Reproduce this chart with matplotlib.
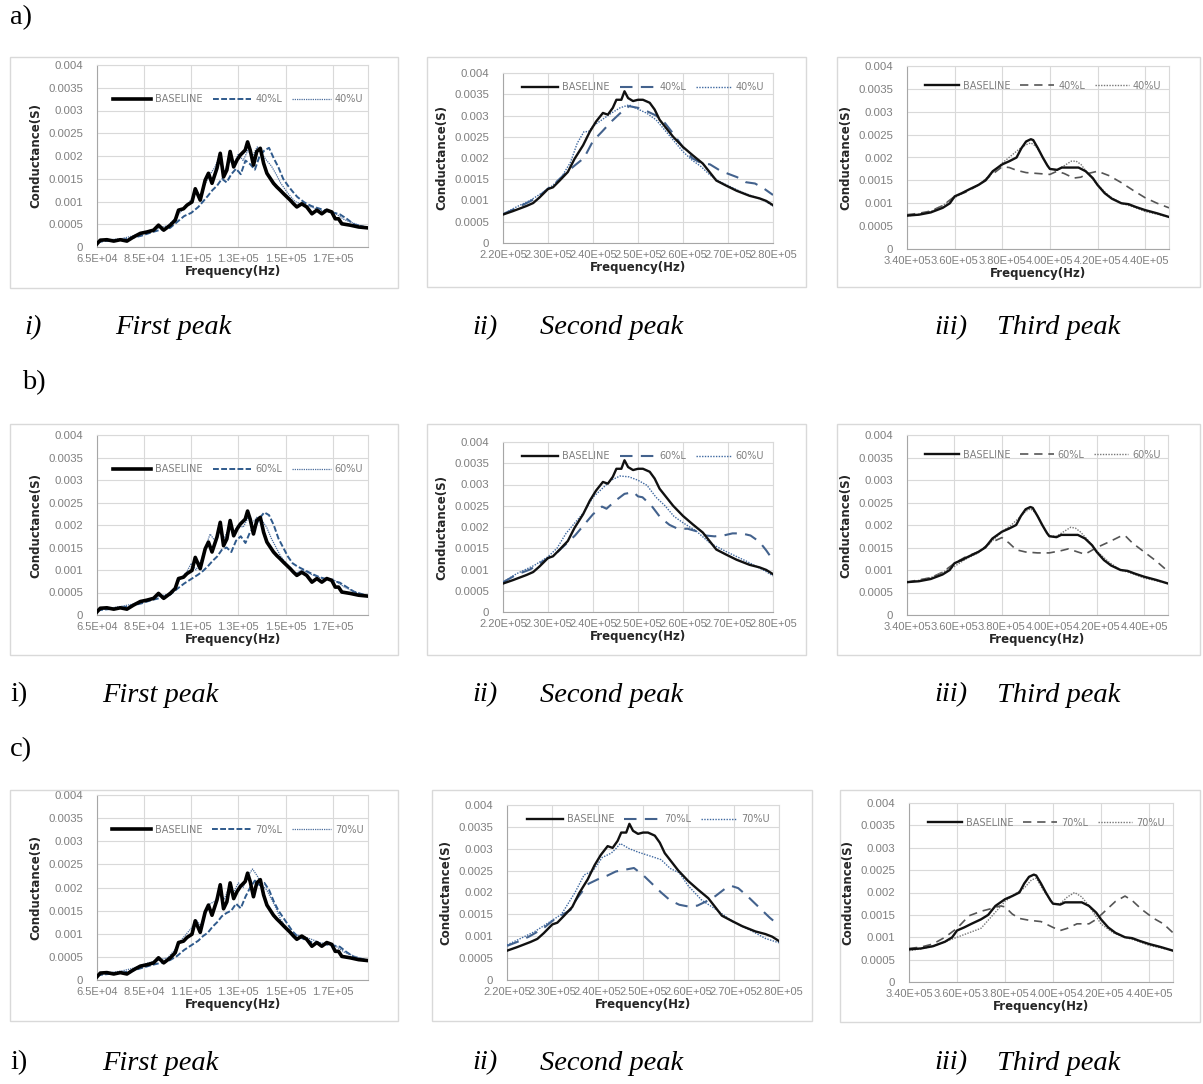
import numpy as np
import matplotlib.pyplot as plt
from matplotlib.patches import Rectangle

W, H = 1203, 1084

# ---------------- Datos de conductancia (S) vs frecuencia (kHz) ----------------
# Primer pico
f1_base = [65.0, 66.4, 69.2, 72.1, 74.9, 77.7, 80.5, 83.4, 86.2, 89.0, 91.1, 93.3, 96.1, 98.2, 99.6,
           101.7, 103.2, 105.3, 106.7, 108.8, 110.9, 112.3, 113.8, 115.9, 117.3, 118.7, 120.1, 121.5,
           123.0, 124.4, 125.8, 127.9, 128.9, 130.0, 131.4, 132.8, 134.3, 135.7, 137.1, 138.5, 139.9,
           141.3, 142.7, 144.2, 145.6, 147.0, 148.4, 149.8, 151.9, 154.0, 156.2, 158.3, 160.4, 162.5,
           164.6, 166.1, 167.5, 168.9, 172.4, 176.0, 179.9]
g1_base = [0.00007, 0.00015, 0.00016, 0.00013, 0.00016, 0.00013, 0.00022, 0.00030, 0.00033, 0.00037,
           0.00048, 0.00037, 0.00048, 0.00059, 0.00081, 0.00084, 0.00092, 0.00099, 0.00128, 0.00103,
           0.00147, 0.00162, 0.00140, 0.00173, 0.00206, 0.00154, 0.00169, 0.00210, 0.00176, 0.00191,
           0.00202, 0.00213, 0.00231, 0.00213, 0.00180, 0.00210, 0.00217, 0.00184, 0.00162, 0.00151,
           0.00140, 0.00132, 0.00125, 0.00117, 0.00110, 0.00103, 0.00095, 0.00088, 0.00095, 0.00088,
           0.00073, 0.00081, 0.00073, 0.00081, 0.00077, 0.00062, 0.00062, 0.00051, 0.00048, 0.00044,
           0.00042]

f1_L = [65, 68, 72, 76, 80, 84, 88, 92, 96, 99, 102, 105, 108, 110, 112, 114, 116, 118, 120, 122,
        124, 126, 128, 130, 132, 134, 136, 138, 140, 142, 144, 146, 148, 150, 153, 156, 159, 162,
        165, 168, 171, 174, 177, 180]
g1_40L = [0.00010, 0.00013, 0.00014, 0.00016, 0.00020, 0.00025, 0.00032, 0.00038, 0.00042, 0.00055,
          0.00068, 0.00075, 0.00088, 0.00100, 0.00112, 0.00125, 0.00135, 0.00150, 0.00142, 0.00160,
          0.00172, 0.00160, 0.00190, 0.00182, 0.00170, 0.00200, 0.00212, 0.00218, 0.00195, 0.00175,
          0.00150, 0.00135, 0.00122, 0.00110, 0.00098, 0.00090, 0.00085, 0.00080, 0.00076, 0.00072,
          0.00062, 0.00050, 0.00046, 0.00042]
g1_60L = [0.00010, 0.00012, 0.00014, 0.00017, 0.00021, 0.00026, 0.00033, 0.00038, 0.00045, 0.00058,
          0.00070, 0.00080, 0.00090, 0.00098, 0.00108, 0.00120, 0.00130, 0.00145, 0.00150, 0.00140,
          0.00165, 0.00175, 0.00160, 0.00185, 0.00195, 0.00215, 0.00228, 0.00222, 0.00200, 0.00170,
          0.00150, 0.00130, 0.00115, 0.00108, 0.00100, 0.00092, 0.00085, 0.00080, 0.00076, 0.00072,
          0.00062, 0.00052, 0.00047, 0.00042]
g1_70L = [0.00010, 0.00012, 0.00014, 0.00016, 0.00020, 0.00026, 0.00032, 0.00037, 0.00043, 0.00052,
          0.00065, 0.00075, 0.00085, 0.00095, 0.00102, 0.00115, 0.00125, 0.00138, 0.00145, 0.00150,
          0.00165, 0.00155, 0.00180, 0.00200, 0.00215, 0.00205, 0.00210, 0.00195, 0.00170, 0.00150,
          0.00135, 0.00120, 0.00105, 0.00095, 0.00088, 0.00082, 0.00080, 0.00077, 0.00075, 0.00072,
          0.00060, 0.00050, 0.00046, 0.00042]

f1_U = [65, 70, 75, 80, 85, 90, 95, 98, 101, 103, 105, 107, 109, 111, 113, 115, 117, 119, 121, 123,
        125, 127, 129, 131, 133, 135, 137, 139, 141, 143, 146, 149, 152, 156, 160, 165, 170, 175, 180]
g1_40U = [0.00010, 0.00016, 0.00018, 0.00024, 0.00033, 0.00040, 0.00047, 0.00062, 0.00080, 0.00090,
          0.00105, 0.00125, 0.00110, 0.00140, 0.00160, 0.00175, 0.00200, 0.00165, 0.00190, 0.00180,
          0.00205, 0.00190, 0.00212, 0.00200, 0.00220, 0.00205, 0.00190, 0.00178, 0.00160, 0.00140,
          0.00118, 0.00100, 0.00094, 0.00088, 0.00080, 0.00078, 0.00060, 0.00050, 0.00042]
g1_60U = [0.00010, 0.00015, 0.00019, 0.00024, 0.00032, 0.00040, 0.00046, 0.00060, 0.00085, 0.00095,
          0.00115, 0.00100, 0.00120, 0.00150, 0.00180, 0.00165, 0.00185, 0.00170, 0.00195, 0.00185,
          0.00200, 0.00195, 0.00215, 0.00205, 0.00218, 0.00210, 0.00195, 0.00170, 0.00150, 0.00130,
          0.00110, 0.00092, 0.00100, 0.00090, 0.00082, 0.00080, 0.00062, 0.00050, 0.00042]
g1_70U = [0.00010, 0.00016, 0.00019, 0.00025, 0.00034, 0.00042, 0.00048, 0.00065, 0.00088, 0.00100,
          0.00112, 0.00130, 0.00118, 0.00145, 0.00165, 0.00170, 0.00190, 0.00175, 0.00200, 0.00190,
          0.00210, 0.00200, 0.00225, 0.00240, 0.00225, 0.00205, 0.00195, 0.00175, 0.00155, 0.00130,
          0.00110, 0.00098, 0.00095, 0.00088, 0.00080, 0.00078, 0.00060, 0.00050, 0.00042]

# Segundo pico
f2_base = [220.0, 222.2, 225.2, 226.7, 228.1, 230.0, 231.1, 232.6, 234.4, 235.9, 237.8, 239.3, 240.7,
           242.2, 243.3, 244.4, 245.2, 246.3, 247.0, 247.8, 248.9, 250.0, 251.1, 252.6, 253.7, 254.8,
           256.3, 257.8, 260.0, 262.2, 264.4, 265.9, 267.4, 269.6, 271.9, 274.8, 277.0, 278.5, 280.0]
g2_base = [0.00067, 0.00075, 0.00087, 0.00094, 0.00107, 0.00127, 0.00131, 0.00147, 0.00167, 0.00198,
           0.00230, 0.00262, 0.00286, 0.00306, 0.00302, 0.00318, 0.00337, 0.00337, 0.00357, 0.00341,
           0.00334, 0.00337, 0.00337, 0.00330, 0.00314, 0.00290, 0.00270, 0.00250, 0.00226, 0.00206,
           0.00187, 0.00167, 0.00147, 0.00135, 0.00123, 0.00111, 0.00105, 0.00099, 0.00089]

f2_40L = [220, 223, 226, 228, 230, 232, 234, 236, 238, 240, 242, 244, 246, 248, 250, 252, 254, 256,
          258, 260, 262, 264, 266, 268, 270, 272, 274, 276, 278, 280]
g2_40L = [0.00068, 0.00082, 0.00098, 0.00110, 0.00128, 0.00145, 0.00165, 0.00183, 0.00200, 0.00240,
          0.00262, 0.00285, 0.00305, 0.00322, 0.00318, 0.00310, 0.00300, 0.00282, 0.00255, 0.00225,
          0.00200, 0.00188, 0.00185, 0.00172, 0.00163, 0.00155, 0.00143, 0.00140, 0.00128, 0.00113]
f2_40U = [220, 223, 226, 229, 231, 233, 235, 236.5, 238, 239, 240, 242, 244, 246, 248, 250, 252, 254,
          256, 258, 260, 262, 264, 266, 268, 270, 273, 276, 278, 280]
g2_40U = [0.00068, 0.00085, 0.00100, 0.00120, 0.00135, 0.00155, 0.00190, 0.00235, 0.00262, 0.00262,
          0.00275, 0.00290, 0.00305, 0.00318, 0.00325, 0.00315, 0.00305, 0.00290, 0.00265, 0.00240,
          0.00215, 0.00195, 0.00180, 0.00160, 0.00145, 0.00135, 0.00120, 0.00108, 0.00100, 0.00087]
f2_60L = [220, 223, 226, 229, 232, 234, 236, 238, 240, 242, 243, 245, 247, 249, 250, 251, 253, 255,
          257, 259, 261, 263, 265, 267, 269, 271, 273, 275, 277, 278.5, 280]
g2_60L = [0.00070, 0.00088, 0.00100, 0.00120, 0.00140, 0.00160, 0.00180, 0.00205, 0.00230, 0.00248,
          0.00243, 0.00262, 0.00278, 0.00282, 0.00272, 0.00270, 0.00250, 0.00222, 0.00205, 0.00195,
          0.00196, 0.00190, 0.00180, 0.00178, 0.00180, 0.00185, 0.00185, 0.00180, 0.00165, 0.00145,
          0.00122]
f2_60U = [220, 223, 227, 230, 232, 234, 236, 238, 240, 242, 244, 246, 248, 250, 252, 254, 256, 258,
          260, 263, 266, 270, 274, 278, 280]
g2_60U = [0.00070, 0.00090, 0.00110, 0.00130, 0.00150, 0.00185, 0.00210, 0.00235, 0.00270, 0.00290,
          0.00310, 0.00320, 0.00318, 0.00310, 0.00298, 0.00270, 0.00250, 0.00225, 0.00210, 0.00190,
          0.00162, 0.00140, 0.00120, 0.00098, 0.00085]
f2_70L = [220, 223, 225, 228, 230, 232, 234, 235, 237, 238, 240, 242, 244, 246, 248, 250, 252, 254,
          256, 258, 260, 262, 264, 266, 268, 269.5, 271, 273, 276, 278, 280]
g2_70L = [0.00078, 0.00090, 0.00100, 0.00118, 0.00135, 0.00148, 0.00160, 0.00180, 0.00208, 0.00220,
          0.00230, 0.00238, 0.00248, 0.00252, 0.00256, 0.00240, 0.00220, 0.00200, 0.00182, 0.00172,
          0.00168, 0.00170, 0.00180, 0.00192, 0.00208, 0.00215, 0.00210, 0.00192, 0.00162, 0.00142,
          0.00125]
f2_70U = [220, 223, 226, 229, 232, 235, 237, 239, 241, 243, 244, 245, 247, 249, 252, 254, 256, 258,
          260, 263, 266, 270, 274, 277, 280]
g2_70U = [0.00080, 0.00095, 0.00110, 0.00130, 0.00150, 0.00200, 0.00240, 0.00250, 0.00280, 0.00290,
          0.00300, 0.00312, 0.00300, 0.00292, 0.00282, 0.00275, 0.00255, 0.00245, 0.00215, 0.00182,
          0.00162, 0.00132, 0.00112, 0.00095, 0.00085]

# Tercer pico
f3_base = [340, 345, 350, 355, 358, 360, 363, 366, 370, 373, 376, 380, 383, 386, 388, 390, 392, 393,
           395, 397, 399, 400, 403, 405, 408, 412, 415, 418, 420, 423, 426, 430, 433, 436, 440, 445, 450]
g3_base = [0.00073, 0.00075, 0.00080, 0.00090, 0.00100, 0.00115, 0.00122, 0.00130, 0.00140, 0.00150,
           0.00170, 0.00185, 0.00192, 0.00200, 0.00220, 0.00235, 0.00240, 0.00238, 0.00220, 0.00200,
           0.00182, 0.00175, 0.00173, 0.00178, 0.00178, 0.00178, 0.00170, 0.00155, 0.00140, 0.00122,
           0.00110, 0.00100, 0.00098, 0.00092, 0.00085, 0.00078, 0.00070]

f3_40L = [340, 345, 350, 355, 360, 365, 370, 375, 380, 383, 386, 390, 395, 400, 403, 406, 410, 413,
          416, 420, 425, 430, 435, 440, 445, 450]
g3_40L = [0.00075, 0.00078, 0.00083, 0.00095, 0.00115, 0.00125, 0.00140, 0.00160, 0.00180, 0.00178,
          0.00172, 0.00167, 0.00165, 0.00163, 0.00170, 0.00165, 0.00155, 0.00157, 0.00165, 0.00170,
          0.00160, 0.00145, 0.00128, 0.00112, 0.00100, 0.00090]
f3_U = [340, 345, 350, 355, 360, 365, 370, 375, 380, 384, 387, 390, 392, 394, 396, 398, 400, 403,
        406, 409, 411, 413, 416, 420, 425, 430, 435, 440, 445, 450]
g3_40U = [0.00072, 0.00076, 0.00082, 0.00095, 0.00112, 0.00128, 0.00140, 0.00162, 0.00188, 0.00205,
          0.00218, 0.00228, 0.00232, 0.00225, 0.00210, 0.00190, 0.00175, 0.00172, 0.00182, 0.00192,
          0.00192, 0.00185, 0.00165, 0.00140, 0.00115, 0.00100, 0.00092, 0.00082, 0.00076, 0.00070]
f3_60L = [340, 345, 350, 355, 360, 365, 370, 375, 380, 383, 386, 390, 395, 400, 405, 408, 412, 415,
          420, 425, 430, 432, 435, 440, 445, 450]
g3_60L = [0.00073, 0.00078, 0.00083, 0.00095, 0.00115, 0.00130, 0.00140, 0.00160, 0.00172, 0.00160,
          0.00145, 0.00140, 0.00138, 0.00138, 0.00143, 0.00147, 0.00140, 0.00135, 0.00150, 0.00162,
          0.00175, 0.00176, 0.00160, 0.00140, 0.00120, 0.00097]
g3_60U = [0.00072, 0.00077, 0.00083, 0.00095, 0.00108, 0.00125, 0.00138, 0.00160, 0.00185, 0.00200,
          0.00215, 0.00230, 0.00236, 0.00228, 0.00212, 0.00190, 0.00176, 0.00175, 0.00185, 0.00195,
          0.00193, 0.00185, 0.00168, 0.00142, 0.00118, 0.00100, 0.00092, 0.00082, 0.00076, 0.00070]
f3_70L = [340, 345, 350, 355, 360, 365, 370, 375, 378, 380, 383, 386, 390, 395, 400, 403, 406, 410,
          415, 418, 422, 426, 430, 433, 437, 442, 446, 450]
g3_70L = [0.00075, 0.00078, 0.00085, 0.00100, 0.00120, 0.00148, 0.00158, 0.00165, 0.00170, 0.00168,
          0.00152, 0.00142, 0.00138, 0.00135, 0.00122, 0.00115, 0.00120, 0.00130, 0.00130, 0.00140,
          0.00160, 0.00180, 0.00192, 0.00182, 0.00162, 0.00142, 0.00130, 0.00110]
f3_70U = [340, 345, 350, 355, 360, 365, 370, 375, 380, 385, 388, 391, 393, 396, 400, 403, 406, 409,
          412, 415, 420, 425, 430, 435, 440, 445, 450]
g3_70U = [0.00070, 0.00074, 0.00080, 0.00090, 0.00100, 0.00110, 0.00120, 0.00150, 0.00180, 0.00200,
          0.00210, 0.00228, 0.00232, 0.00205, 0.00175, 0.00175, 0.00190, 0.00200, 0.00190, 0.00170,
          0.00130, 0.00110, 0.00100, 0.00092, 0.00082, 0.00076, 0.00070]

# Ejes
xlim_khz = [(65, 180), (220, 280), (340, 450)]
xticks_khz = [[65, 85, 105, 125, 145, 165],
              [220, 230, 240, 250, 260, 270, 280],
              [340, 360, 380, 400, 420, 440]]
xtick_labels = [["6.5E+04", "8.5E+04", "1.1E+05", "1.3E+05", "1.5E+05", "1.7E+05"],
                ["2.20E+05", "2.30E+05", "2.40E+05", "2.50E+05", "2.60E+05", "2.70E+05", "2.80E+05"],
                ["3.40E+05", "3.60E+05", "3.80E+05", "4.00E+05", "4.20E+05", "4.40E+05"]]
yticks = [0, 0.0005, 0.001, 0.0015, 0.002, 0.0025, 0.003, 0.0035, 0.004]
ytick_labels = ["0", "0.0005", "0.001", "0.0015", "0.002", "0.0025", "0.003", "0.0035", "0.004"]

niveles = ["40%", "60%", "70%"]
filas = ["a)", "b)", "c)"]
picos = ["First peak", "Second peak", "Third peak"]
numeros = ["i)", "ii)", "iii)"]

# series por fila y columna: (L, U)
series = [
    [((f1_L, g1_40L), (f1_U, g1_40U)), ((f2_40L, g2_40L), (f2_40U, g2_40U)), ((f3_40L, g3_40L), (f3_U, g3_40U))],
    [((f1_L, g1_60L), (f1_U, g1_60U)), ((f2_60L, g2_60L), (f2_60U, g2_60U)), ((f3_60L, g3_60L), (f3_U, g3_60U))],
    [((f1_L, g1_70L), (f1_U, g1_70U)), ((f2_70L, g2_70L), (f2_70U, g2_70U)), ((f3_70L, g3_70L), (f3_70U, g3_70U))],
]
bases = [(f1_base, g1_base), (f2_base, g2_base), (f3_base, g3_base)]

# estilos de linea por columna
est_base = [dict(color='black', lw=2.6), dict(color='#111111', lw=1.7), dict(color='#111111', lw=1.7)]
est_L = [dict(color='#2f5a8c', lw=1.4, dashes=(3, 1.2)),
         dict(color='#43628d', lw=1.5, dashes=(6, 4)),
         dict(color='#555555', lw=1.2, dashes=(5, 3.5))]
est_U = [dict(color='#4a6c9c', lw=0.9, ls=(0, (1, 0.8))),
         dict(color='#3e68a0', lw=1.0, ls=(0, (1, 1))),
         dict(color='#777777', lw=1.0, ls=(0, (1, 1)))]

# cajas de los ejes en pixeles (x0, y0, x1, y1)
cajas_ejes = [
    [(97, 65, 368, 247), (503, 73, 773, 243), (907, 66, 1169, 249)],
    [(97, 435, 368, 615), (503, 442, 773, 612), (907, 435, 1168, 615)],
    [(97, 795, 368, 980), (507, 805, 779, 980), (909, 803, 1173, 982)],
]
cajas_graf = [
    [(10, 57, 398, 288), (427, 57, 806, 287), (837, 57, 1200, 287)],
    [(10, 424, 398, 655), (427, 424, 806, 655), (837, 424, 1200, 655)],
    [(10, 790, 398, 1021), (432, 790, 812, 1021), (840, 790, 1200, 1022)],
]
leg_y = [0.86, 0.97, 0.94]
leg_hl = [4.0, 3.7, 3.5]


def caja(b):
    x0, y0, x1, y1 = b
    return [x0 / W, 1 - y1 / H, (x1 - x0) / W, (y1 - y0) / H]


fig = plt.figure(figsize=(W / 100, H / 100), dpi=100)

for r in range(3):
    for c in range(3):
        # marco del grafico
        x0, y0, x1, y1 = cajas_graf[r][c]
        fig.patches.append(Rectangle((x0 / W, 1 - y1 / H), (x1 - x0) / W, (y1 - y0) / H,
                                     transform=fig.transFigure, fill=False,
                                     edgecolor='#d9d9d9', lw=1.0))
        ax = fig.add_axes(caja(cajas_ejes[r][c]))
        fb, gb = bases[c]
        (fl, gl), (fu, gu) = series[r][c]
        ax.plot(np.array(fb) * 1e3, gb, label='BASELINE', **est_base[c], zorder=4)
        ax.plot(np.array(fl) * 1e3, gl, label=niveles[r] + 'L', **est_L[c], zorder=3)
        ax.plot(np.array(fu) * 1e3, gu, label=niveles[r] + 'U', **est_U[c], zorder=3)

        ax.set_xlim(xlim_khz[c][0] * 1e3, xlim_khz[c][1] * 1e3)
        ax.set_ylim(0, 0.004)
        ax.set_xticks(np.array(xticks_khz[c]) * 1e3)
        ax.set_xticklabels(xtick_labels[c], fontsize=8, color='#7f7f7f', family='Liberation Sans')
        ax.set_yticks(yticks)
        ax.set_yticklabels(ytick_labels, fontsize=8.2, color='#7f7f7f', family='Liberation Sans')
        ax.tick_params(axis='x', length=0, pad=5)
        ax.tick_params(axis='y', length=0, pad=10)
        ax.grid(True, color='#d9d9d9', lw=0.8)
        ax.set_axisbelow(True)
        for s in ax.spines.values():
            s.set_color('#d9d9d9')
        ax.spines['left'].set_color('#a6a6a6')
        ax.spines['bottom'].set_color('#a6a6a6')
        ax.set_ylabel('Conductance(S)', fontsize=8.5, fontweight='bold', color='#262626', labelpad=4)
        ax.set_xlabel('Frequency(Hz)', fontsize=8.5, fontweight='bold', color='#262626', labelpad=1)
        leg = ax.legend(loc='upper center', bbox_to_anchor=(0.52, leg_y[c]), ncol=3, frameon=False,
                        fontsize=7, handlelength=leg_hl[c], columnspacing=1.0, handletextpad=0.4,
                        borderaxespad=0)
        for t in leg.get_texts():
            t.set_color('#7f7f7f')

# titulos de fila y leyendas de pico
fila_y = [18, 383, 750]
pie_y = [328, 695, 1063]
fila_x = [10, 22, 10]
fs = 20.5
for r in range(3):
    fig.text(fila_x[r] / W, 1 - fila_y[r] / H, filas[r], family='Liberation Serif',
             fontsize=fs, va='center')
    yy = 1 - pie_y[r] / H
    if r == 0:
        fig.text(24 / W, yy, numeros[0], family='Liberation Serif', style='italic', fontsize=fs, va='center')
        fig.text(115 / W, yy, picos[0], family='Liberation Serif', style='italic', fontsize=fs, va='center')
    else:
        fig.text(10 / W, yy, numeros[0], family='Liberation Serif', fontsize=fs, va='center')
        fig.text(102 / W, yy, picos[0], family='Liberation Serif', style='italic', fontsize=fs, va='center')
    fig.text(472 / W, yy, numeros[1], family='Liberation Serif', style='italic', fontsize=fs, va='center')
    fig.text(540 / W, yy, picos[1], family='Liberation Serif', style='italic', fontsize=fs, va='center')
    fig.text(934 / W, yy, numeros[2], family='Liberation Serif', style='italic', fontsize=fs, va='center')
    fig.text(997 / W, yy, picos[2], family='Liberation Serif', style='italic', fontsize=fs, va='center')

fig.savefig('out.png', dpi=100, facecolor='white')
